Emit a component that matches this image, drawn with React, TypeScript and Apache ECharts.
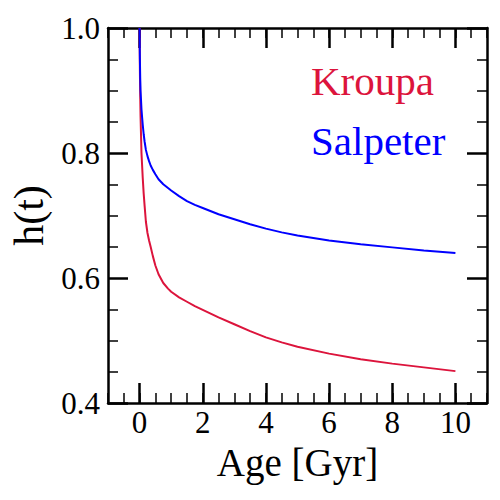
import React, { useEffect, useRef } from "react";
import * as echarts from "echarts";

const ages = [0, 0.005, 0.01, 0.02, 0.03, 0.045, 0.06, 0.08, 0.1, 0.13, 0.16, 0.2, 0.25, 0.3, 0.35, 0.42, 0.5, 0.6, 0.75, 0.9, 1, 1.25, 1.5, 1.75, 2, 2.5, 3, 3.5, 4, 4.5, 5, 6, 7, 8, 9, 10];
const kroupa = [1.0, 0.96, 0.93, 0.89, 0.86, 0.83, 0.8, 0.78, 0.76, 0.735, 0.715, 0.69, 0.672, 0.66, 0.65, 0.635, 0.62, 0.606, 0.592, 0.583, 0.578, 0.569, 0.562, 0.555, 0.549, 0.537, 0.526, 0.515, 0.505, 0.497, 0.49, 0.479, 0.47, 0.463, 0.457, 0.451];
const salpeter = [1.0, 0.97, 0.95, 0.92, 0.9, 0.885, 0.87, 0.857, 0.845, 0.83, 0.818, 0.805, 0.795, 0.787, 0.78, 0.773, 0.766, 0.758, 0.75, 0.744, 0.74, 0.731, 0.723, 0.717, 0.712, 0.702, 0.694, 0.686, 0.679, 0.673, 0.668, 0.66, 0.654, 0.649, 0.644, 0.64];
const xMajorTicks = [0, 2, 4, 6, 8, 10];
const legendNames = ["Kroupa", "Salpeter"];
const colors = ["#DC143C", "#0000FF"];

const FONT = "Liberation Serif";

export default function App() {
  const ref = useRef<HTMLDivElement>(null);
  useEffect(() => {
    if (!ref.current) return;
    const chart = echarts.init(ref.current, null, { renderer: "svg" });
    const xBase = {
      type: "value" as const,
      min: -1,
      max: 11,
      splitLine: { show: false },
    };
    const minorX = (pos: string) => ({
      ...xBase,
      position: pos,
      interval: 0.5,
      axisLine: { show: true, onZero: false, lineStyle: { color: "#000", width: 2.5 } },
      axisTick: { show: true, inside: true, length: 10, lineStyle: { color: "#000", width: 1.5 } },
      axisLabel: { show: false },
    });
    const majorX = (pos: string, labels: boolean) => ({
      ...xBase,
      position: pos,
      interval: 0.5,
      axisLine: { show: false, onZero: false },
      axisTick: {
        show: true,
        inside: true,
        length: 20,
        customValues: xMajorTicks,
        lineStyle: { color: "#000", width: 2.5 },
      },
      axisLabel: {
        show: labels,
        customValues: xMajorTicks,
        fontFamily: FONT,
        fontSize: 31,
        color: "#000",
        margin: 4,
      },
      name: labels ? "Age [Gyr]" : "",
      nameLocation: "middle",
      nameGap: 28,
      nameTextStyle: { fontFamily: FONT, fontSize: 39, color: "#000" },
    });
    const yAxis = (pos: string, labels: boolean) => ({
      type: "value" as const,
      position: pos,
      min: 0.4,
      max: 1.0,
      interval: 0.2,
      splitLine: { show: false },
      axisLine: { show: true, onZero: false, lineStyle: { color: "#000", width: 2.5 } },
      axisTick: { show: true, inside: true, length: 20, lineStyle: { color: "#000", width: 2.5 } },
      minorTick: { show: true, splitNumber: 4, length: 10, lineStyle: { color: "#000", width: 1.5 } },
      axisLabel: {
        show: labels,
        fontFamily: FONT,
        fontSize: 31,
        color: "#000",
        margin: 8,
        formatter: (v: number) => v.toFixed(1),
      },
      name: labels ? "h(t)" : "",
      nameLocation: "middle",
      nameRotate: 90,
      nameGap: 50,
      nameTextStyle: { fontFamily: FONT, fontSize: 42, color: "#000" },
    });
    chart.setOption({
      animation: false,
      backgroundColor: "#fff",
      grid: { left: 108, right: 13, top: 28, bottom: 97, containLabel: false, outerBoundsMode: "none" },
      xAxis: [minorX("bottom"), majorX("bottom", true), minorX("top"), majorX("top", false)],
      yAxis: [yAxis("left", true), yAxis("right", false)],
      series: [kroupa, salpeter].map((vals, i) => ({
        type: "line",
        name: legendNames[i],
        data: ages.map((t, j) => [t, vals[j]]),
        showSymbol: false,
        smooth: false,
        lineStyle: { color: colors[i], width: 2 },
        itemStyle: { color: colors[i] },
        clip: true,
      })),
      graphic: legendNames.map((n, i) => ({
        type: "text",
        x: 311,
        y: i === 0 ? 81 : 141,
        style: {
          text: n,
          fill: colors[i],
          fontFamily: FONT,
          fontSize: 41,
          textAlign: "left",
          textVerticalAlign: "middle",
        },
      })),
    });
    return () => chart.dispose();
  }, []);
  return <div ref={ref} style={{ position: "fixed", left: 0, top: 0, width: 500, height: 500 }} />;
}
